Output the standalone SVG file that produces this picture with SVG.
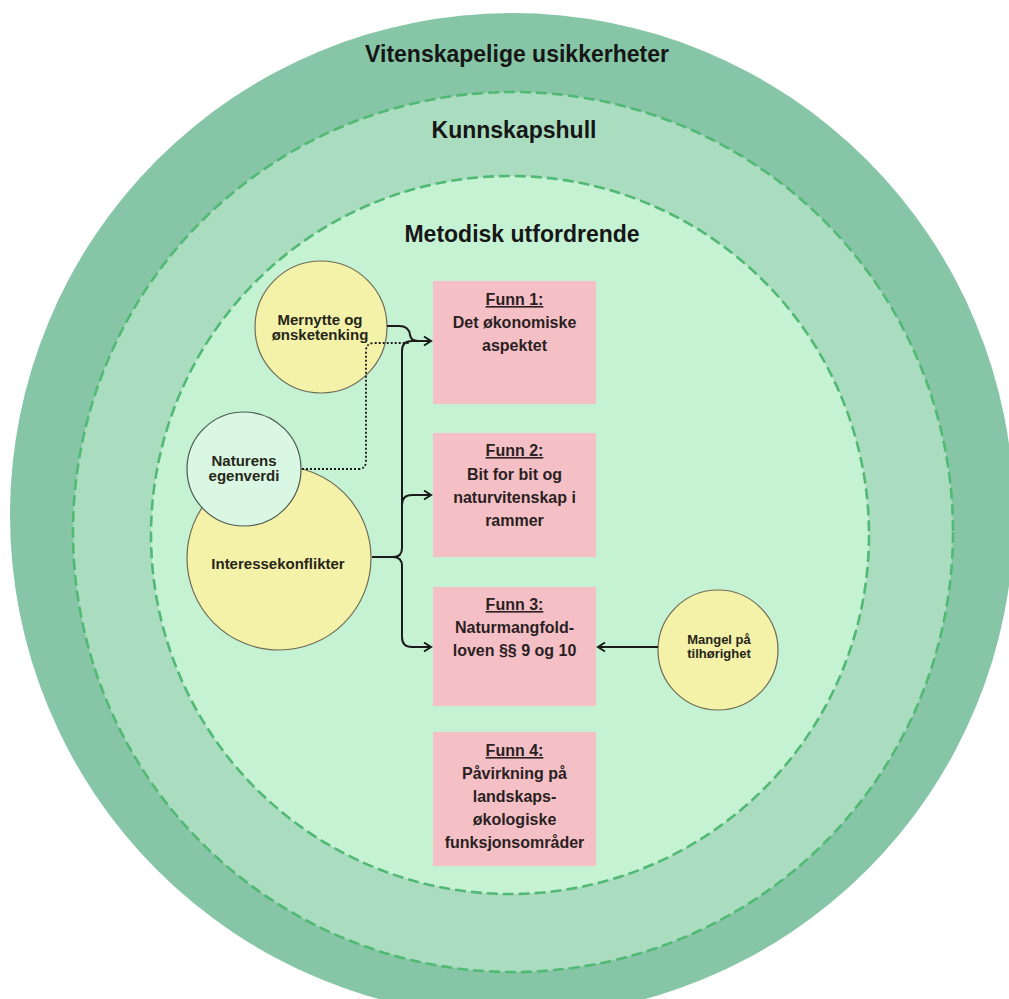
<svg xmlns="http://www.w3.org/2000/svg" width="1009" height="999" viewBox="0 0 1009 999">
<defs>
<style>
.ring{stroke:#52b975;stroke-width:2.6;stroke-dasharray:11 5}
.title{font-family:"Liberation Sans",Arial,sans-serif;font-weight:bold;font-size:23px;fill:#161616;text-anchor:middle}
.box{fill:#f5bfc6}
.bt{font-family:"Liberation Sans",Arial,sans-serif;font-weight:bold;font-size:16px;fill:#2a1f22;text-anchor:middle}
.cn{fill:#f4f1a9;stroke:#6e6c55;stroke-width:1.2}
.ct{font-family:"Liberation Sans",Arial,sans-serif;font-weight:bold;font-size:15px;fill:#262618;text-anchor:middle}
.con{fill:none;stroke:#1b1b1b;stroke-width:2}
</style>
<marker id="arr" markerUnits="userSpaceOnUse" markerWidth="12" markerHeight="12" refX="9" refY="6" orient="auto">
<path d="M2,1.5 L9,6 L2,10.5" fill="none" stroke="#1b1b1b" stroke-width="2"/>
</marker>
</defs>
<rect width="1009" height="999" fill="#ffffff"/>
<g id="layer-vitenskapelige">
<circle cx="512" cy="515" r="502" fill="#86c6a7"/>
<text class="title" x="517" y="62">Vitenskapelige usikkerheter</text>
</g>
<g id="layer-kunnskapshull">
<circle class="ring" cx="513" cy="532" r="440" fill="#aaddbf"/>
<text class="title" x="514" y="138">Kunnskapshull</text>
</g>
<g id="layer-metodisk">
<circle class="ring" cx="510" cy="535" r="359" fill="#c6f2d4"/>
<text class="title" x="522" y="242">Metodisk utfordrende</text>
</g>
<g id="funn1">
<rect class="box" x="433" y="281" width="163" height="123"/>
<text class="bt" x="514.5" y="305" text-decoration="underline">Funn 1:</text>
<text class="bt" x="514.5" y="328">Det økonomiske</text>
<text class="bt" x="514.5" y="351">aspektet</text>
</g>
<g id="funn2">
<rect class="box" x="433" y="433" width="163" height="124"/>
<text class="bt" x="514.5" y="456" text-decoration="underline">Funn 2:</text>
<text class="bt" x="514.5" y="480">Bit for bit og</text>
<text class="bt" x="514.5" y="503">naturvitenskap i</text>
<text class="bt" x="514.5" y="526">rammer</text>
</g>
<g id="funn3">
<rect class="box" x="433" y="587" width="163" height="119"/>
<text class="bt" x="514.5" y="610" text-decoration="underline">Funn 3:</text>
<text class="bt" x="514.5" y="633">Naturmangfold-</text>
<text class="bt" x="514.5" y="656">loven §§ 9 og 10</text>
</g>
<g id="funn4">
<rect class="box" x="433" y="732" width="163" height="134"/>
<text class="bt" x="514.5" y="756" text-decoration="underline">Funn 4:</text>
<text class="bt" x="514.5" y="779">Påvirkning på</text>
<text class="bt" x="514.5" y="802">landskaps-</text>
<text class="bt" x="514.5" y="825">økologiske</text>
<text class="bt" x="514.5" y="848">funksjonsområder</text>
</g>
<g id="mernytte">
<circle class="cn" cx="321" cy="327" r="66"/>
<text class="ct" x="320" y="325">Mernytte og</text>
<text class="ct" x="320" y="340">ønsketenking</text>
</g>
<g id="interessekonflikter">
<circle class="cn" cx="279" cy="558" r="92"/>
<text class="ct" x="278" y="569">Interessekonflikter</text>
</g>
<g id="naturens-egenverdi">
<circle cx="244" cy="469" r="57" fill="#d9f7e3" stroke="#4a5a50" stroke-width="1.2"/>
<text class="ct" x="244" y="466">Naturens</text>
<text class="ct" x="244" y="481">egenverdi</text>
</g>
<g id="mangel">
<circle class="cn" cx="718" cy="650" r="60"/>
<text class="ct" style="font-size:13px" x="719" y="644">Mangel på</text>
<text class="ct" style="font-size:13px" x="719" y="658">tilhørighet</text>
</g>
<g id="connectors">
<path class="con" d="M372,557 H393 Q402,557 402,548 V351 Q402,341 412,341 H431" marker-end="url(#arr)"/>
<path class="con" d="M393,557 Q402,557 402,566 V637 Q402,647 412,647 H431" marker-end="url(#arr)"/>
<path class="con" d="M402,505 Q402,495 412,495 H431" marker-end="url(#arr)"/>
<path class="con" d="M387,326 H399 Q409,326 410,335 Q411,341 418,341"/>
<path d="M302,469 H358 Q366,469 366,461 V351 Q366,343 374,343 H410" fill="none" stroke="#1b1b1b" stroke-width="1.8" stroke-dasharray="2 2"/>
<path class="con" d="M658,647 H598" marker-end="url(#arr)"/>
</g>
</svg>
